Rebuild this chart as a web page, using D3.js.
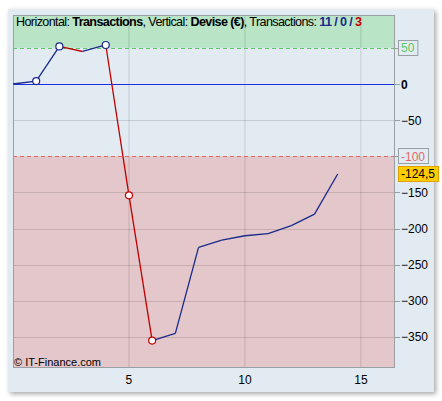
<!DOCTYPE html>
<html><head><meta charset="utf-8">
<script src="https://cdn.jsdelivr.net/npm/d3@7/dist/d3.min.js"></script>
<style>body{margin:0;background:#fff;}svg{display:block;font-family:"Liberation Sans",Arial,sans-serif;}</style>
</head><body>
<svg id="c" width="442" height="401"></svg>
<script>
const trades = [0,1,2,3,4,5,6,7,8,9,10,11,12,13,14];
const equity = [0,4,52,45,54,-154,-355,-345,-226,-216,-210,-207,-196,-180,-124.5];
const losing = [2,4,5]; // segment start index of losing trades
const markerIdx = [1,2,4,5,6];
const markerLoss = [false,false,false,true,true];
const xTicks = [5,10,15];
const yTicks = [0,-50,-150,-200,-250,-300,-350];
const upperLimit = 50, lowerLimit = -100;
const lastLabel = "-124,5";

const svg = d3.select("#c");
const defs = svg.append("defs");
const f = defs.append("filter").attr("id","sh").attr("x","-5%").attr("y","-5%").attr("width","110%").attr("height","110%");
f.append("feDropShadow").attr("dx",2).attr("dy",2).attr("stdDeviation",2.5).attr("flood-color","#000").attr("flood-opacity",0.35);

svg.append("rect").attr("x",8).attr("y",9).attr("width",426).attr("height",383).attr("fill","#e3ebf2").attr("filter","url(#sh)");

const L=13,R=395,T=15,B=368;
const x = d3.scaleLinear().domain([0,16.47]).range([L,R]);
const y = d3.scaleLinear().domain([95.5,-393]).range([T,B]);

// zones
svg.append("rect").attr("x",L).attr("y",T).attr("width",R-L).attr("height",y(upperLimit)-T).attr("fill","#b9e4c5");
svg.append("rect").attr("x",L).attr("y",y(upperLimit)).attr("width",R-L).attr("height",y(lowerLimit)-y(upperLimit)).attr("fill","#e3ebf2");
svg.append("rect").attr("x",L).attr("y",y(lowerLimit)).attr("width",R-L).attr("height",B-y(lowerLimit)).attr("fill","#e3c7cb");

// grid
const g = svg.append("g");
xTicks.forEach(t=>{
  g.append("line").attr("x1",x(t)).attr("x2",x(t)).attr("y1",T).attr("y2",B).attr("stroke","#000").attr("stroke-opacity",0.13).attr("stroke-width",1);
});
yTicks.filter(t=>t!==0).forEach(t=>{
  g.append("line").attr("x1",L).attr("x2",R).attr("y1",Math.round(y(t))+0.5).attr("y2",Math.round(y(t))+0.5).attr("stroke","#000").attr("stroke-opacity",0.13);
});
g.append("line").attr("x1",L).attr("x2",R).attr("y1",Math.round(y(0))+0.5).attr("y2",Math.round(y(0))+0.5).attr("stroke","#1f2ee0").attr("stroke-width",1.2);
g.append("line").attr("x1",L).attr("x2",R).attr("y1",Math.round(y(upperLimit))+0.5).attr("y2",Math.round(y(upperLimit))+0.5).attr("stroke","#5cc764").attr("stroke-dasharray","4,3");
g.append("line").attr("x1",L).attr("x2",R).attr("y1",Math.round(y(lowerLimit))+0.5).attr("y2",Math.round(y(lowerLimit))+0.5).attr("stroke","#e06a6a").attr("stroke-dasharray","4,3");

// border
svg.append("rect").attr("x",L+0.5).attr("y",T+0.5).attr("width",R-L-1).attr("height",B-T-1).attr("fill","none").attr("stroke","#9a9fa3");

// axes
const yAxisTicks = [upperLimit,lowerLimit].concat(yTicks);
yAxisTicks.forEach(t=>{
  svg.append("line").attr("x1",R).attr("x2",R+5).attr("y1",Math.round(y(t))+0.5).attr("y2",Math.round(y(t))+0.5).attr("stroke","#9a9fa3");
});
yTicks.forEach(t=>{
  svg.append("text").attr("x",401).attr("y",y(t)+4.5).attr("font-size",12).attr("font-weight",t===0?"bold":"normal").attr("fill","#000").text(d3.format("d")(t));
});
function boxLabel(v,txt,fill,stroke,col){
  const gg=svg.append("g");
  const t=gg.append("text").attr("x",401).attr("y",y(v)+4.5).attr("font-size",12).attr("fill",col).text(txt);
  const w=t.node().getComputedTextLength();
  gg.insert("rect","text").attr("x",398.5).attr("y",Math.round(y(v))-7.5).attr("width",w+6).attr("height",15).attr("fill",fill).attr("stroke",stroke);
}
boxLabel(upperLimit,"50","#e3ebf2","#9a9fa3","#5cc764");
boxLabel(lowerLimit,"-100","#e3ebf2","#9a9fa3","#e06a6a");
boxLabel(-124.5,lastLabel,"#ffcc00","#e0a000","#000");

xTicks.forEach(t=>{
  svg.append("text").attr("x",x(t)).attr("y",384).attr("text-anchor","middle").attr("font-size",12).text(t);
});

// series
for(let i=0;i<trades.length-1;i++){
  const loss = losing.includes(i);
  svg.append("line").attr("x1",x(trades[i])).attr("y1",y(equity[i])).attr("x2",x(trades[i+1])).attr("y2",y(equity[i+1]))
    .attr("stroke",loss?"#c00000":"#1a2a8a").attr("stroke-width",1.3);
}
markerIdx.forEach((k,j)=>{
  svg.append("circle").attr("cx",x(trades[k])).attr("cy",y(equity[k])).attr("r",3.5).attr("fill","#fff")
    .attr("stroke",markerLoss[j]?"#c00000":"#1a2a8a").attr("stroke-width",1.2);
});

// title
const tt = svg.append("text").attr("x",16).attr("y",26).attr("font-size",12.6).attr("fill","#000");
tt.append("tspan").text("Horizontal: ");
tt.append("tspan").attr("font-weight","bold").text("Transactions");
tt.append("tspan").text(", Vertical: ");
tt.append("tspan").attr("font-weight","bold").text("Devise (€)");
tt.append("tspan").text(", Transactions: ");
tt.append("tspan").attr("font-weight","bold").attr("fill","#1a2a8a").text("11 / 0 / ");
tt.append("tspan").attr("font-weight","bold").attr("fill","#c00000").text("3");
// fit title width to the reference span
const tw = tt.node().getComputedTextLength();
tt.attr("textLength", 346).attr("lengthAdjust","spacing");

svg.append("text").attr("x",14).attr("y",366).attr("font-size",11).text("© IT-Finance.com");
</script>
</body></html>
